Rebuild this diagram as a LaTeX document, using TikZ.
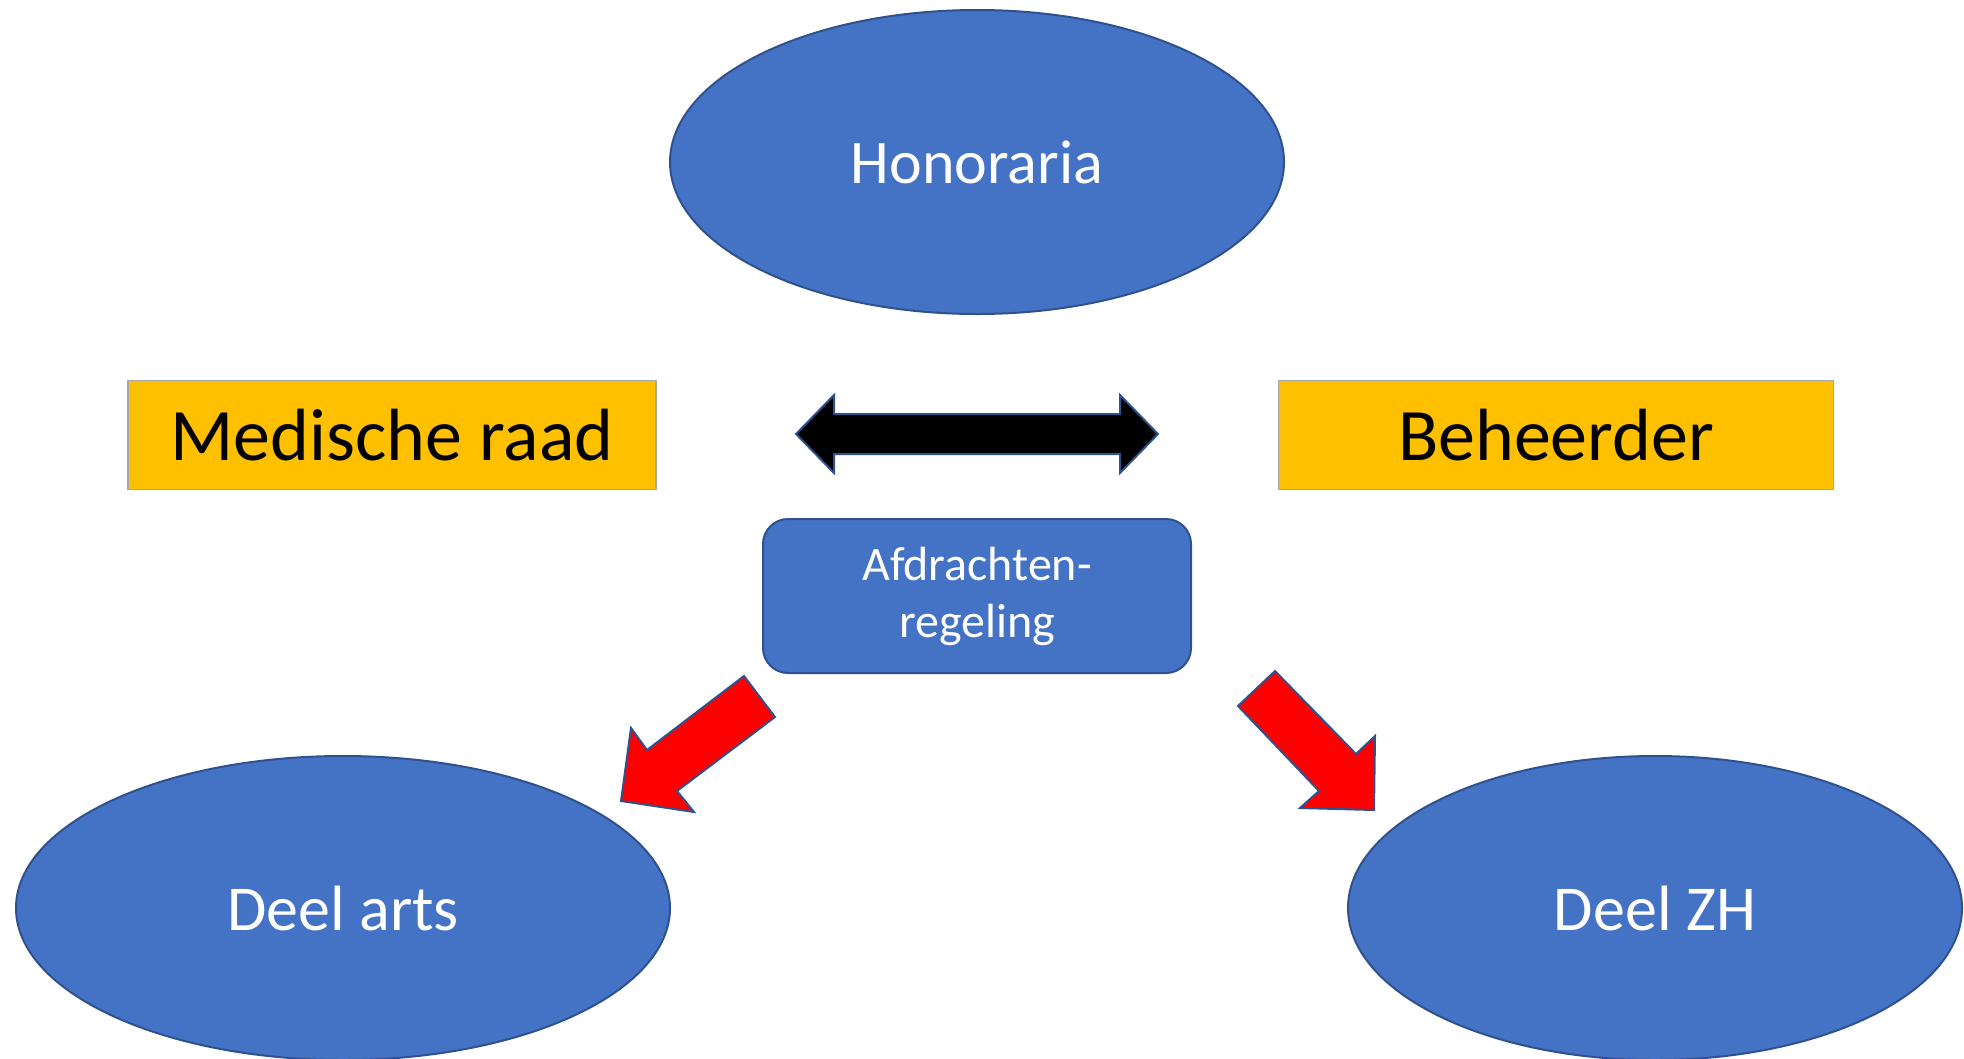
\documentclass[tikz,border=0pt]{standalone}
\usepackage{fontspec}
\setmainfont{Carlito}
\usetikzlibrary{shapes.geometric,positioning}
\definecolor{fillblue}{HTML}{4472C4}
\definecolor{lineblue}{HTML}{2F528F}
\definecolor{boxyellow}{HTML}{FFC000}
\begin{document}
\begin{tikzpicture}[x=1pt,y=-1pt,
    oval/.style={ellipse,draw=lineblue,fill=fillblue,line width=2pt,inner sep=0pt,
      text=white,minimum width=614pt,minimum height=304pt,font=\fontsize{62}{70}\selectfont},
    rolebox/.style={rectangle,draw=black!35,fill=boxyellow,line width=1.2pt,
      minimum width=528pt,minimum height=109pt,font=\fontsize{74}{80}\selectfont},
    rulebox/.style={rectangle,rounded corners=25pt,draw=lineblue,fill=fillblue,line width=2pt,
      text=white,align=center,minimum width=428pt,minimum height=154pt,
      font=\fontsize{48}{57}\selectfont},
    blockarrow/.style={draw=lineblue,line width=2pt,line join=miter}]
      \useasboundingbox (0,0) rectangle (1964,1058);
      \clip (0,0) rectangle (1964,1058);
      \node[oval] (hon) at (977,162) {Honoraria};
      \node[rolebox] (raad) at (392,435) {Medische raad};
      \node[rolebox,minimum width=555pt] (beh) at (1556,435) {Beheerder};
      \node[rulebox] (afd) at (977,596) {Afdrachten-\\regeling};
      \node[oval,minimum width=654pt,font=\fontsize{64}{70}\selectfont] (arts) at (343,908) {Deel arts};
      \node[oval,font=\fontsize{64}{70}\selectfont] (zh) at (1655,908) {Deel ZH};
      \filldraw[blockarrow,fill=black] (796,434) -- (834,395) -- (834,414) -- (1120,414)
        -- (1120,395) -- (1158,434) -- (1120,473) -- (1120,454) -- (834,454) -- (834,473) -- cycle;
      \filldraw[blockarrow,fill=red] (744,676) -- (775,717) -- (677,791) -- (694,812)
        -- (621,801) -- (631,728) -- (647,750) -- cycle;
      \filldraw[blockarrow,fill=red] (1275,671) -- (1238,706) -- (1319,791) -- (1300,808)
        -- (1374,810) -- (1375,736) -- (1356,754) -- cycle;
\end{tikzpicture}
\end{document}
